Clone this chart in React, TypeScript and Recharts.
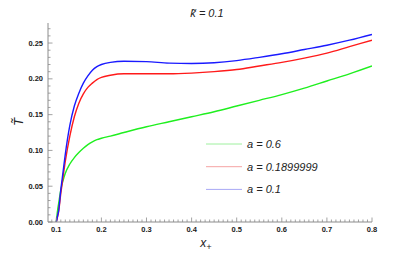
import { LineChart, Line, XAxis, YAxis } from "recharts";
import type { ReactElement } from "react";

// x_+ sample points (shared by the three curves)
const xPlus = [0.1, 0.103, 0.105, 0.11, 0.115, 0.12, 0.13, 0.14, 0.15, 0.16, 0.17, 0.18, 0.19, 0.2, 0.22, 0.25, 0.3, 0.35, 0.4, 0.45, 0.5, 0.55, 0.6, 0.65, 0.7, 0.75, 0.8];

const tA06 = [0, 0.017, 0.025, 0.045, 0.058, 0.068, 0.081, 0.09, 0.097, 0.103, 0.108, 0.112, 0.115, 0.117, 0.12, 0.125, 0.133, 0.14, 0.147, 0.154, 0.162, 0.17, 0.178, 0.187, 0.197, 0.207, 0.218];
const tA019 = [0, 0.008, 0.014, 0.04, 0.063, 0.085, 0.12, 0.147, 0.166, 0.179, 0.188, 0.194, 0.199, 0.202, 0.205, 0.207, 0.207, 0.207, 0.208, 0.21, 0.213, 0.218, 0.223, 0.229, 0.236, 0.245, 0.254];
const tA01 = [0, 0.009, 0.015, 0.045, 0.07, 0.095, 0.135, 0.162, 0.18, 0.194, 0.204, 0.212, 0.217, 0.22, 0.223, 0.2245, 0.224, 0.222, 0.2215, 0.2225, 0.2255, 0.23, 0.235, 0.241, 0.247, 0.254, 0.262];

const xMajor = [0.1, 0.2, 0.3, 0.4, 0.5, 0.6, 0.7, 0.8];
const yMajor = [0, 0.05, 0.1, 0.15, 0.2, 0.25];

const legendItems = [
  { label: "a = 0.6", color: "#9ef09e" },
  { label: "a = 0.1899999", color: "#f5a3a3" },
  { label: "a = 0.1", color: "#a8a8f5" },
];

const data = xPlus.map((x, i) => ({ x, g: tA06[i], r: tA019[i], b: tA01[i] }));

const xTicks: number[] = [];
for (let k = 9; k <= 80; k++) xTicks.push(k / 100);
const yTicks: number[] = [];
for (let k = 0; k <= 27; k++) yTicks.push(k / 100);

const isMajor = (v: number, list: number[]) => list.some((m) => Math.abs(m - v) < 1e-9);
const frame = "#8c8c8c";
const font = "Liberation Sans, Arial, sans-serif";
const tickFont = { fontFamily: font, fontSize: 7.5, fontWeight: 700, fill: "#1a1a1a" };

function makeTick(side: "bottom" | "top" | "left" | "right") {
  return function Tick(props: any): ReactElement {
    const { x, y, payload } = props;
    const v = payload.value as number;
    const major = isMajor(v, side === "bottom" || side === "top" ? xMajor : yMajor);
    const len = major ? 4.5 : 2.5;
    if (side === "bottom" || side === "top") {
      const dir = side === "bottom" ? -1 : 1;
      return (
        <g>
          <line x1={x} y1={y} x2={x} y2={y + dir * len} stroke={frame} strokeWidth={0.8} />
          {side === "bottom" && major && (
            <text x={x} y={y + 10} textAnchor="middle" {...tickFont}>
              {v.toFixed(1)}
            </text>
          )}
        </g>
      );
    }
    const dir = side === "left" ? 1 : -1;
    return (
      <g>
        <line x1={x} y1={y} x2={x + dir * len} y2={y} stroke={frame} strokeWidth={0.8} />
        {side === "left" && major && (
          <text x={x - 5} y={y + 2.5} textAnchor="end" {...tickFont}>
            {v.toFixed(2)}
          </text>
        )}
      </g>
    );
  };
}

export default function App(): ReactElement {
  return (
    <div style={{ position: "absolute", left: 0, top: 0, width: 415, height: 260, background: "#fff" }}>
      <LineChart width={415} height={260} data={data} margin={{ top: 23, right: 43, bottom: 18, left: 8 }}>
        <XAxis xAxisId="b" dataKey="x" type="number" domain={[0.0816, 0.8]} ticks={xTicks} interval={0} allowDataOverflow
          height={20} tickSize={0} tickMargin={0} tickLine={false} axisLine={{ stroke: frame }} tick={makeTick("bottom")} />
        <XAxis xAxisId="t" dataKey="x" type="number" orientation="top" domain={[0.0816, 0.8]} ticks={xTicks} interval={0} allowDataOverflow
          height={0} tickSize={0} tickMargin={0} tickLine={false} axisLine={{ stroke: frame }} tick={makeTick("top")} />
        <YAxis yAxisId="l" type="number" domain={[0, 0.278]} ticks={yTicks} interval={0} allowDataOverflow
          width={40} tickSize={0} tickMargin={0} tickLine={false} axisLine={{ stroke: frame }} tick={makeTick("left")} />
        <YAxis yAxisId="r" type="number" orientation="right" domain={[0, 0.278]} ticks={yTicks} interval={0} allowDataOverflow
          width={0} tickSize={0} tickMargin={0} tickLine={false} axisLine={{ stroke: frame }} tick={makeTick("right")} />
        <Line xAxisId="b" yAxisId="l" type="monotone" dataKey="g" stroke="#1fef1f" strokeWidth={1.4} dot={false} isAnimationActive={false} />
        <Line xAxisId="b" yAxisId="l" type="monotone" dataKey="r" stroke="#ff1a1a" strokeWidth={1.4} dot={false} isAnimationActive={false} />
        <Line xAxisId="b" yAxisId="l" type="monotone" dataKey="b" stroke="#1a1aff" strokeWidth={1.4} dot={false} isAnimationActive={false} />
      </LineChart>
      <svg width={415} height={260} style={{ position: "absolute", left: 0, top: 0, pointerEvents: "none" }}>
        <text x={207} y={17} textAnchor="middle" fontFamily={font} fontStyle="italic" fontSize={11} fill="#222">
          {"k\u0303 = 0.1"}
        </text>
        <text x={206} y={247} textAnchor="middle" fontFamily={font} fontStyle="italic" fontSize={12} fill="#222">
          x<tspan fontSize={9} dy={3}>+</tspan>
        </text>
        <text x={0} y={0} transform="translate(23,122) rotate(-90)" textAnchor="middle" fontFamily={font} fontStyle="italic" fontSize={13} fill="#222">
          {"T\u0303"}
        </text>
        {legendItems.map((it, i) => (
          <g key={it.label}>
            <line x1={206} x2={242} y1={144 + i * 22.7} y2={144 + i * 22.7} stroke={it.color} strokeWidth={1} />
            <text x={247} y={148 + i * 22.7} fontFamily={font} fontStyle="italic" fontSize={11} fill="#222">
              {it.label}
            </text>
          </g>
        ))}
      </svg>
    </div>
  );
}
